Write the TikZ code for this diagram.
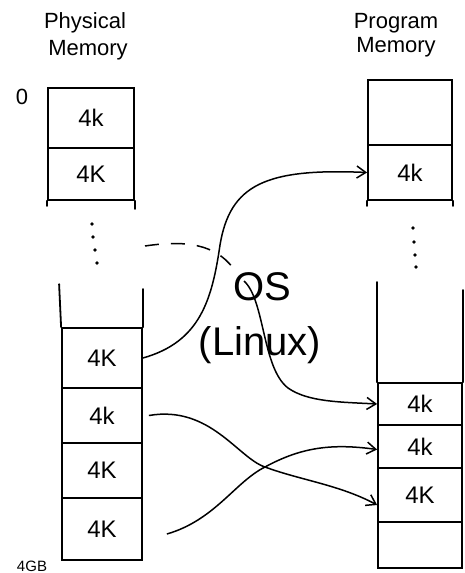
\documentclass[tikz,border=0pt]{standalone}
\usepackage{fontspec}
\setmainfont{Liberation Sans}
\usetikzlibrary{arrows.meta}
\begin{document}
\begin{tikzpicture}[x=1pt,y=-1pt,
  ln/.style={line width=1.8pt, line cap=round},
  cell/.style={draw, line width=1.8pt, rectangle, inner sep=0pt, font=\fontsize{24}{24}\selectfont},
  conn/.style={line width=1.5pt, -{Straight Barb[length=9pt,width=12pt]}},
  title/.style={font=\fontsize{22}{22}\selectfont, inner sep=0pt},
  big/.style={font=\fontsize{40}{40}\selectfont, inner sep=0pt},
  dotm/.style={fill, circle, inner sep=1.3pt}]
\useasboundingbox (0,0) rectangle (464,573);
% titles
\node[title] (pt1) at (85,23) {Physical};
\node[title] (pt2) at (88,50) {Memory};
\node[title] (qt1) at (396,23) {Program};
\node[title] (qt2) at (396,47) {Memory};
\node[title] (zero) at (22,97) {0};
\node[font=\fontsize{15}{15}\selectfont, inner sep=0pt] (fourgb) at (32,566) {4GB};
% physical top
\node[cell, minimum width=86pt, minimum height=60pt] (p0) at (91,118) {4k};
\node[cell, minimum width=86pt, minimum height=52pt] (p1) at (91,174) {4K};
\draw[ln] (p1.south west) -- ++(0,5);
\draw[ln] (p1.south east) -- ++(0,8);
% physical dots
\node[dotm] (pd1) at (92,224) {};
\node[dotm] (pd2) at (93,237) {};
\node[dotm] (pd3) at (95,250) {};
\node[dotm] (pd4) at (97,263) {};
% physical lower
\node[cell, minimum width=80pt, minimum height=60pt] (q0) at (102,358) {4K};
\node[cell, minimum width=80pt, minimum height=55pt] (q1) at (102,415.5) {4k};
\node[cell, minimum width=80pt, minimum height=55pt] (q2) at (102,470.5) {4K};
\node[cell, minimum width=80pt, minimum height=62pt] (q3) at (102,529) {4K};
\draw[ln] (q0.north west) -- ++(-2,-43);
\draw[ln] (q0.north east) -- ++(0,-38);
% program top
\node[cell, minimum width=84pt, minimum height=65pt] (r0) at (410,112.5) {};
\node[cell, minimum width=84pt, minimum height=55pt] (r1) at (410,172.5) {4k};
\draw[ln] (r1.south west) -- ++(0,5);
\draw[ln] (r1.south east) -- ++(0,5);
% program dots
\node[dotm] (rd1) at (413,228) {};
\node[dotm] (rd2) at (414,242) {};
\node[dotm] (rd3) at (415,255) {};
\node[dotm] (rd4) at (416,267) {};
% program lower
\node[cell, minimum width=84pt, minimum height=42pt] (s0) at (420,404) {4k};
\node[cell, minimum width=84pt, minimum height=43pt] (s1) at (420,446.5) {4k};
\node[cell, minimum width=84pt, minimum height=54pt] (s2) at (420,495) {4K};
\node[cell, minimum width=84pt, minimum height=46pt] (s3) at (420,545) {};
\draw[ln] (s0.north west) -- ++(0,-100);
\draw[ln] (s0.north east) -- ++(0,-92);
% OS label
\node[big] (os) at (262,287) {OS};
\node[big] (linux) at (260,345) {(Linux)};
\coordinate (osstart) at (244,281);
\coordinate (dashstart) at (145,246);
\coordinate (dashend) at (233,268);
% connectors
\draw[conn] (q0.east) .. controls (200,342) and (212,300) .. (220,245)
  .. controls (230,185) and (265,168) .. (r1.west);
\draw[line width=1.5pt, dashed, dash pattern=on 14pt off 12pt] (dashstart) .. controls (185,240) and (215,244) .. (dashend);
\draw[conn] (osstart) .. controls (265,300) and (262,368) .. (288,388)
  .. controls (308,402) and (340,402) .. (s0.west);
\draw[conn] ([xshift=6pt]q1.east) .. controls (210,405) and (238,458) .. (265,467)
  .. controls (300,480) and (340,485) .. ([yshift=-10pt]s2.west);
\draw[conn] ([xshift=24pt,yshift=-5pt]q3.east) .. controls (215,520) and (235,482) .. (265,467)
  .. controls (300,448) and (330,443) .. ([yshift=-3pt]s1.west);
\end{tikzpicture}
\end{document}
